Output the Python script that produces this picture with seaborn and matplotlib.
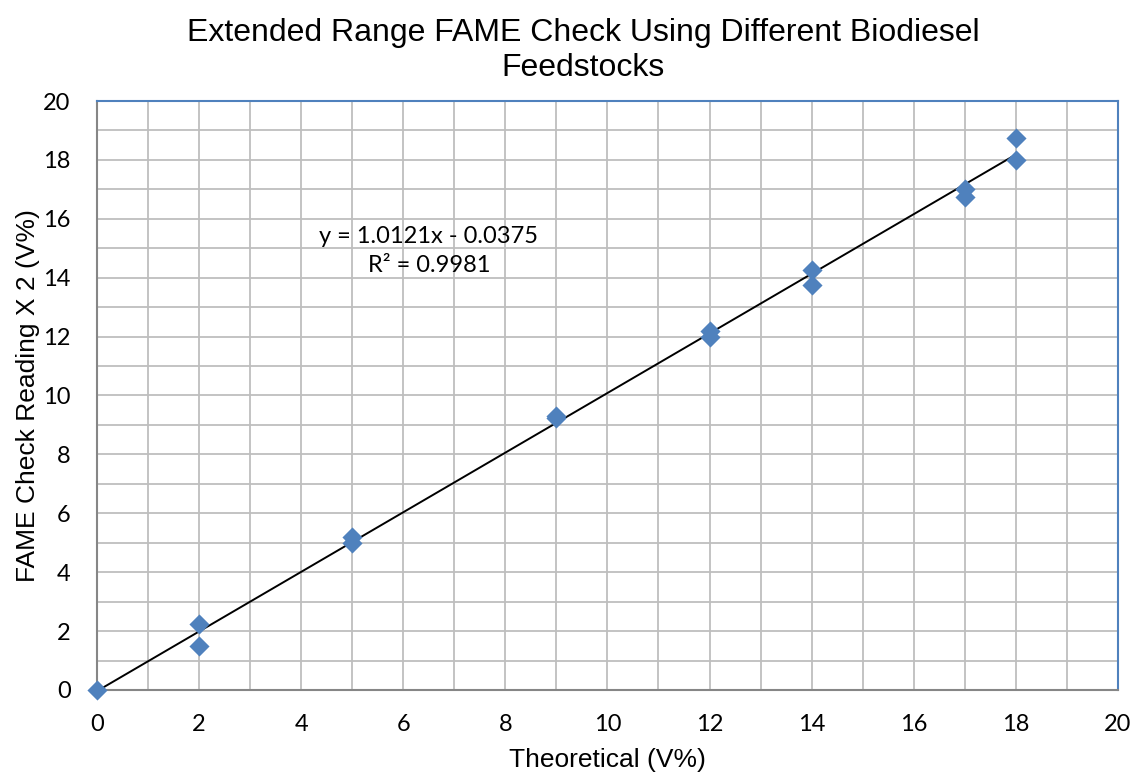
import numpy as np
import pandas as pd
import seaborn as sns
import matplotlib.pyplot as plt
from matplotlib.ticker import MultipleLocator

theoretical = [0, 2, 2, 5, 5, 9, 9, 12, 12, 14, 14, 17, 17, 18, 18]
fame_reading = [0, 2.25, 1.5, 5.2, 5.0, 9.25, 9.3, 12.2, 12.0, 14.25, 13.75, 17.0, 16.75, 18.75, 18.0]
slope = 1.0121
intercept = -0.0375
r_squared = 0.9981

df = pd.DataFrame({"Theoretical": theoretical, "Reading": fame_reading})
trend = pd.DataFrame({"x": [min(theoretical), max(theoretical)]})
trend["y"] = slope * trend["x"] + intercept

sns.set_style("white")
plt.rcParams["font.family"] = ["Liberation Sans", "DejaVu Sans"]
plt.rcParams["text.color"] = "black"
plt.rcParams["axes.labelcolor"] = "black"
plt.rcParams["xtick.labelcolor"] = "black"
plt.rcParams["ytick.labelcolor"] = "black"

fig = plt.figure(figsize=(11.36, 7.77), dpi=100)
ax = fig.add_axes([0.0854, 0.112, 0.8986, 0.758])

grid_col = "#BEBEBE"
for v in range(1, 20):
    ax.axvline(v, color=grid_col, lw=1.3, zorder=0)
    ax.axhline(v, color=grid_col, lw=1.3, zorder=0)

sns.lineplot(data=trend, x="x", y="y", color="black", lw=1.4, ax=ax, zorder=2)
sns.scatterplot(data=df, x="Theoretical", y="Reading", marker="D", s=105,
                color="#4F81BD", linewidth=0, ax=ax, zorder=3, clip_on=False)

ax.set_xlim(0, 20)
ax.set_ylim(0, 20)
ax.xaxis.set_major_locator(MultipleLocator(2))
ax.yaxis.set_major_locator(MultipleLocator(2))
ax.xaxis.set_minor_locator(MultipleLocator(1))
ax.yaxis.set_minor_locator(MultipleLocator(1))
ax.tick_params(which="major", direction="inout", length=10, width=1.3, color="#868686",
               labelsize=17)
ax.tick_params(axis="x", which="major", pad=12)
ax.tick_params(axis="y", which="major", pad=14)
ax.tick_params(which="minor", direction="in", length=5, width=1.3, color="#868686")
for lab in ax.get_xticklabels() + ax.get_yticklabels():
    lab.set_family(["Lato", "DejaVu Sans"])

for side in ["left", "bottom"]:
    ax.spines[side].set_color("#868686")
    ax.spines[side].set_linewidth(1.5)
for side in ["top", "right"]:
    ax.spines[side].set_color("#4F81BD")
    ax.spines[side].set_linewidth(1.5)

ax.set_xlabel("Theoretical (V%)", fontsize=19, labelpad=10)
ax.set_ylabel("FAME Check Reading X 2 (V%)", fontsize=19, labelpad=2)
ax.set_title("Extended Range FAME Check Using Different Biodiesel\nFeedstocks",
             fontsize=23, pad=18, linespacing=1.2, x=0.476)

ax.text(6.5, 15.4, f"y = {slope}x - {abs(intercept)}", ha="center", va="center",
        fontsize=17, family=["Lato", "DejaVu Sans"])
ax.text(6.5, 14.4, f"R² = {r_squared}", ha="center", va="center",
        fontsize=17, family=["Lato", "DejaVu Sans"])

plt.savefig("out.png", dpi=100)
